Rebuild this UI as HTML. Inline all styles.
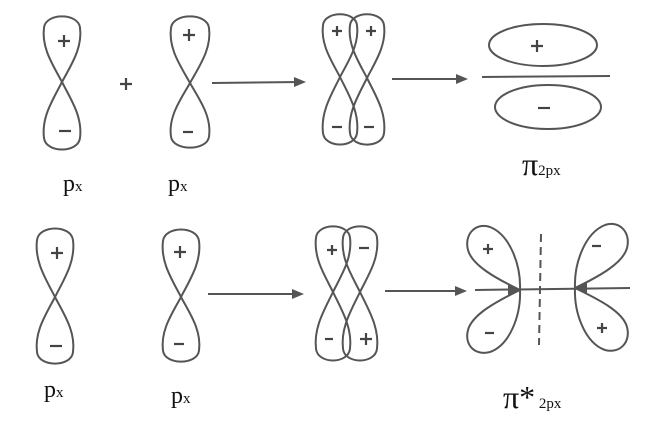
<!DOCTYPE html>
<html><head><meta charset="utf-8"><style>
html,body{margin:0;padding:0;background:#fff}
svg{display:block}
text{font-family:"Liberation Serif",serif;fill:#111}
</style></head><body>
<svg width="662" height="444" viewBox="0 0 662 444" xmlns="http://www.w3.org/2000/svg">
<defs>
<path id="L" d="M0,0 C-0.5,-0.25 -1.15,-0.5 -1,-0.8 C-0.9,-1.02 0.9,-1.02 1,-0.8 C1.15,-0.5 0.5,-0.25 0,0 Z" fill="none" stroke="#555" stroke-width="2" vector-effect="non-scaling-stroke"/>
</defs>
<g fill="none" stroke="#555" stroke-width="2">
<use href="#L" transform="translate(62,82) scale(18,68)"/>
<use href="#L" transform="translate(62,82) rotate(180) scale(18,70)"/>
<use href="#L" transform="translate(190,83) scale(19,69)"/>
<use href="#L" transform="translate(190,83) rotate(180) scale(19,67)"/>
<use href="#L" transform="translate(340,77) scale(17,65)"/>
<use href="#L" transform="translate(340,77) rotate(180) scale(17,70)"/>
<use href="#L" transform="translate(367,78) scale(17,66)"/>
<use href="#L" transform="translate(367,78) rotate(180) scale(17,69)"/>
<line x1="212" y1="83" x2="300" y2="82"/>
<line x1="392" y1="79" x2="462" y2="79"/>
<ellipse cx="543" cy="45" rx="54" ry="21"/>
<line x1="482" y1="77" x2="610" y2="76"/>
<ellipse cx="548" cy="107" rx="53" ry="22"/>
<use href="#L" transform="translate(55,297) scale(18,71)"/>
<use href="#L" transform="translate(55,297) rotate(180) scale(18,69)"/>
<use href="#L" transform="translate(181,297) scale(18,70)"/>
<use href="#L" transform="translate(181,297) rotate(180) scale(18,67)"/>
<use href="#L" transform="translate(333,292) scale(17,68)"/>
<use href="#L" transform="translate(333,292) rotate(180) scale(17,71)"/>
<use href="#L" transform="translate(360,292) scale(17,68)"/>
<use href="#L" transform="translate(360,292) rotate(180) scale(17,71)"/>
<line x1="208" y1="294" x2="298" y2="294"/>
<line x1="385" y1="291" x2="462" y2="291"/>
<line x1="475" y1="290" x2="630" y2="288"/>
<path d="M520,290 C521,265 510,235 490,227 C475,222 464,235 468,250 C472,265 495,278 520,290 Z"/>
<path d="M520,290 C521,315 510,345 490,352 C475,356 464,345 468,330 C472,315 495,302 520,290 Z"/>
<path d="M575,288 C574,263 585,233 605,225 C620,220 631,233 627,248 C623,263 600,276 575,288 Z"/>
<path d="M575,288 C574,313 585,343 605,350 C620,354 631,342 627,327 C623,312 600,300 575,288 Z"/>
<line x1="541" y1="234" x2="539" y2="345" stroke-dasharray="8,5"/>
</g>
<g fill="#555">
<polygon points="306,82 294,77 294,87"/>
<polygon points="468,79 456,74 456,84"/>
<polygon points="304,294 292,289 292,299"/>
<polygon points="467,291 455,286 455,296"/>
<polygon points="521,290 508,285 508,295"/>
<polygon points="574,288 587,283 587,293"/>
</g>
<g stroke="#444" stroke-width="2.2" fill="none">
<path d="M58,41h12M64,35v12"/><path d="M59,131h12"/>
<path d="M183,35h12M189,29v12"/><path d="M183,132h10"/>
<path d="M120,84h12M126,78v12"/>
<path d="M332,31h10M337,26v10"/><path d="M366,31h10M371,26v10"/>
<path d="M332,127h10"/><path d="M364,127h10"/>
<path d="M531,46h12M537,40v12"/><path d="M538,108h12"/>
<path d="M51,253h12M57,247v12"/><path d="M50,346h12"/>
<path d="M174,252h12M180,246v12"/><path d="M174,344h10"/>
<path d="M327,250h10M332,245v10"/><path d="M359,248h10"/>
<path d="M325,339h8"/><path d="M360,339h12M366,333v12"/>
<path d="M483,249h10M488,244v10"/><path d="M592,246h9"/>
<path d="M485,333h9"/><path d="M597,328h10M602,323v10"/>
</g>
<text x="63" y="191" font-size="24">p<tspan font-size="15">x</tspan></text>
<text x="168" y="191" font-size="24">p<tspan font-size="15">x</tspan></text>
<text x="522" y="175" font-size="32">π<tspan font-size="15">2px</tspan></text>
<text x="44" y="397" font-size="24">p<tspan font-size="15">x</tspan></text>
<text x="171" y="403" font-size="24">p<tspan font-size="15">x</tspan></text>
<text x="503" y="408" font-size="32">π*<tspan font-size="15"> 2px</tspan></text>
</svg>
</body></html>
